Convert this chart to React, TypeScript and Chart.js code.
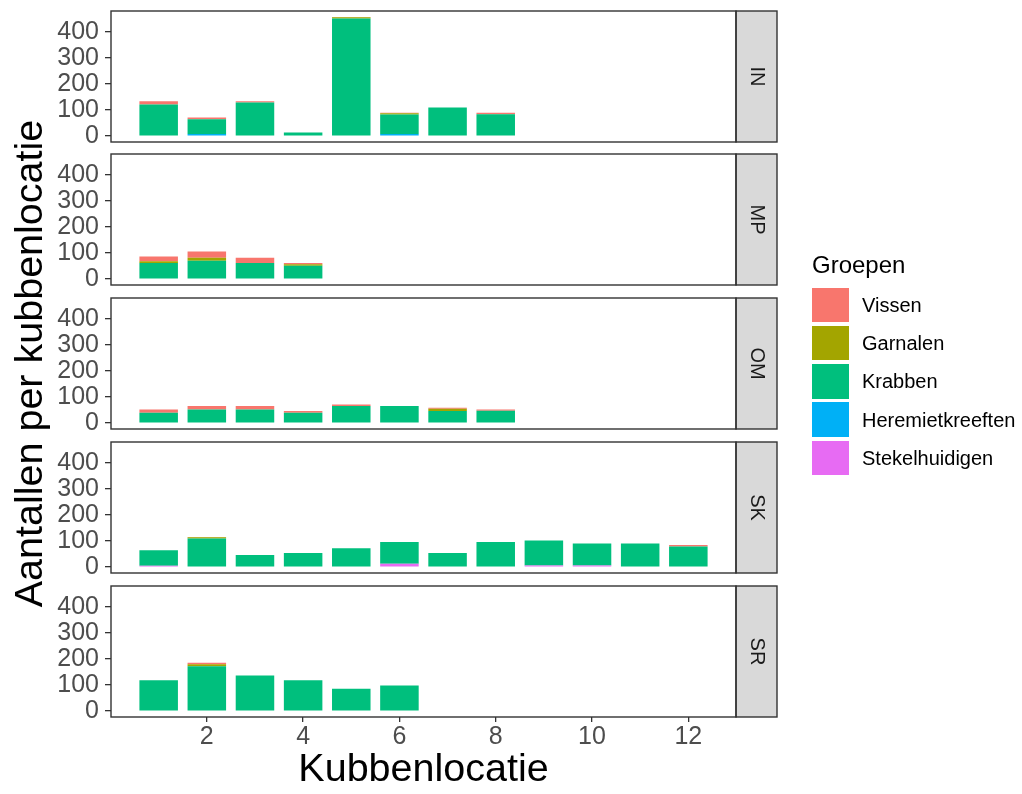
import React, { useEffect, useRef } from "react";
import { Chart, registerables } from "chart.js";

Chart.register(...registerables);

// ---------- data ----------
const facets = ["IN", "MP", "OM", "SK", "SR"];
const groups = ["Vissen", "Garnalen", "Krabben", "Heremietkreeften", "Stekelhuidigen"];
const groupColors = ["#F8766D", "#A3A500", "#00BF7D", "#00B0F6", "#E76BF3"];
const yTicks = [0, 100, 200, 300, 400];
const xTicks = [2, 4, 6, 8, 10, 12];

// IN (locaties 1-8)
const inVissen = [13, 6, 5, 0, 1, 2, 0, 6];
const inGarnalen = [0, 0, 0, 0, 5, 5, 0, 0];
const inKrabben = [121, 57, 129, 14, 452, 75, 110, 84];
const inHeremiet = [0, 8, 0, 0, 0, 8, 0, 0];
const inStekel = [0, 0, 0, 0, 0, 0, 0, 0];

// MP (locaties 1-4)
const mpVissen = [19, 24, 20, 5];
const mpGarnalen = [6, 12, 0, 6];
const mpKrabben = [62, 70, 62, 51];
const mpHeremiet = [0, 0, 0, 0];
const mpStekel = [0, 0, 0, 0];

// OM (locaties 1-8)
const omVissen = [12, 14, 14, 6, 5, 0, 4, 5];
const omGarnalen = [0, 0, 0, 0, 0, 0, 9, 0];
const omKrabben = [40, 52, 52, 40, 66, 66, 46, 47];
const omHeremiet = [0, 0, 0, 0, 0, 0, 0, 0];
const omStekel = [0, 0, 0, 0, 0, 0, 0, 0];

// SK (locaties 1-12)
const skVissen = [0, 1, 0, 0, 0, 0, 0, 0, 0, 0, 0, 6];
const skGarnalen = [0, 5, 0, 0, 0, 0, 0, 0, 0, 0, 0, 0];
const skKrabben = [60, 110, 46, 54, 72, 83, 54, 96, 96, 85, 91, 79];
const skHeremiet = [0, 0, 0, 0, 0, 0, 0, 0, 0, 0, 0, 0];
const skStekel = [5, 0, 0, 0, 0, 13, 0, 0, 6, 6, 0, 0];

// SR (locaties 1-6)
const srVissen = [0, 6, 0, 0, 0, 0];
const srGarnalen = [0, 8, 0, 0, 0, 0];
const srKrabben = [118, 172, 137, 118, 86, 98];
const srHeremiet = [0, 0, 0, 0, 0, 0];
const srStekel = [0, 0, 0, 0, 0, 0];

const facetSeries = [
  [inVissen, inGarnalen, inKrabben, inHeremiet, inStekel],
  [mpVissen, mpGarnalen, mpKrabben, mpHeremiet, mpStekel],
  [omVissen, omGarnalen, omKrabben, omHeremiet, omStekel],
  [skVissen, skGarnalen, skKrabben, skHeremiet, skStekel],
  [srVissen, srGarnalen, srKrabben, srHeremiet, srStekel],
];

// ---------- layout ----------
const W = 1022;
const H = 794;
const FONT = '"Liberation Sans", Arial, Helvetica, sans-serif';
const panelLeft = 111;
const panelRight = 736;
const stripWidth = 41;
const panelTops = [11, 154, 298, 442, 586];
const panelHeight = 131;
const xAxisHeight = 77;

const panelDecor = {
  id: "panelDecor",
  afterDatasetsDraw(chart: any, _args: any, opts: any) {
    const { ctx, chartArea: a } = chart;
    const h = a.bottom - a.top;
    ctx.save();
    ctx.fillStyle = "#D9D9D9";
    ctx.fillRect(a.right, a.top, stripWidth, h);
    ctx.strokeStyle = "#333333";
    ctx.lineWidth = 1.4;
    ctx.strokeRect(a.right, a.top, stripWidth, h);
    ctx.strokeRect(a.left, a.top, a.right - a.left, h);
    ctx.translate(a.right + stripWidth / 2, a.top + h / 2);
    ctx.rotate(Math.PI / 2);
    ctx.fillStyle = "#1A1A1A";
    ctx.font = `20px ${FONT}`;
    ctx.textAlign = "center";
    ctx.textBaseline = "middle";
    ctx.fillText(opts.label, 0, 0);
    ctx.restore();
  },
};

function buildDatasets(fi: number) {
  const series = facetSeries[fi];
  const order = [4, 3, 2, 1, 0]; // bottom of stack first
  return order.map((gi) => ({
    label: groups[gi],
    data: series[gi].map((v, i) => ({ x: i + 1, y: v })),
    backgroundColor: groupColors[gi],
    borderWidth: 0,
    stack: "s",
    barPercentage: 0.8,
    categoryPercentage: 1,
  }));
}

export default function App() {
  const refs = useRef<(HTMLCanvasElement | null)[]>([]);

  useEffect(() => {
    const charts: Chart[] = [];
    facets.forEach((facet, fi) => {
      const canvas = refs.current[fi];
      if (!canvas) return;
      const isBottom = fi === facets.length - 1;
      const top = panelTops[fi];
      const bottomPad = isBottom ? H - (top + panelHeight) - xAxisHeight : H - (top + panelHeight);
      const chart = new Chart(canvas, {
        type: "bar",
        data: { datasets: buildDatasets(fi) as any },
        plugins: [panelDecor],
        options: {
          responsive: false,
          animation: false,
          devicePixelRatio: 1,
          layout: { padding: { left: 0, right: W - panelRight, top, bottom: bottomPad } },
          plugins: {
            legend: { display: false },
            tooltip: { enabled: false },
            panelDecor: { label: facet },
          } as any,
          scales: {
            x: {
              type: "linear",
              stacked: true,
              offset: false,
              min: 0.01,
              max: 12.99,
              display: isBottom,
              afterBuildTicks: (s: any) => {
                s.ticks = xTicks.map((v) => ({ value: v }));
              },
              afterFit: (s: any) => {
                s.height = isBottom ? xAxisHeight : 0;
                s.paddingLeft = 0;
                s.paddingRight = 0;
              },
              grid: {
                offset: false,
                drawOnChartArea: false,
                drawTicks: true,
                tickLength: 5,
                color: "#333333",
                lineWidth: 1.3,
              },
              border: { display: false },
              ticks: {
                color: "#4D4D4D",
                font: { size: 25, family: FONT },
                padding: 0,
                autoSkip: false,
                maxRotation: 0,
              },
              title: {
                display: true,
                text: "Kubbenlocatie",
                color: "#000000",
                font: { size: 39.5, family: FONT, lineHeight: 1.2 },
                padding: 0,
              },
            },
            y: {
              type: "linear",
              stacked: true,
              min: -22.9,
              max: 480.9,
              afterBuildTicks: (s: any) => {
                s.ticks = yTicks.map((v) => ({ value: v }));
              },
              afterFit: (s: any) => {
                s.width = panelLeft;
                s.paddingTop = 0;
                s.paddingBottom = 0;
              },
              grid: {
                drawOnChartArea: false,
                drawTicks: true,
                tickLength: 6,
                color: "#333333",
                lineWidth: 1.3,
              },
              border: { display: false },
              ticks: {
                color: "#4D4D4D",
                font: { size: 25, family: FONT },
                padding: 6,
                autoSkip: false,
              },
              title: {
                display: fi === 2,
                text: "Aantallen per kubbenlocatie",
                color: "#000000",
                font: { size: 39.5, family: FONT, lineHeight: 1.2 },
                padding: { top: 7, bottom: 0 },
              },
            },
          },
        } as any,
      });
      charts.push(chart);
    });
    return () => charts.forEach((c) => c.destroy());
  }, []);

  const keyTop0 = 287.5;
  const keyStep = 38.3;
  const keyH = 34.5;

  return (
    <div
      style={{
        position: "absolute",
        left: 0,
        top: 0,
        width: W,
        height: H,
        background: "#ffffff",
        overflow: "hidden",
        fontFamily: FONT,
      }}
    >
      {facets.map((f, i) => (
        <canvas
          key={f}
          ref={(el) => {
            refs.current[i] = el;
          }}
          width={W}
          height={H}
          style={{ position: "absolute", left: 0, top: 0, width: W, height: H }}
        />
      ))}
      <div
        style={{
          position: "absolute",
          left: 812,
          top: 251,
          fontSize: 24,
          lineHeight: "28px",
          color: "#000000",
          whiteSpace: "nowrap",
        }}
      >
        Groepen
      </div>
      {groups.map((g, i) => {
        const t = keyTop0 + i * keyStep;
        return (
          <React.Fragment key={g}>
            <div
              style={{
                position: "absolute",
                left: 812,
                top: t,
                width: 37,
                height: keyH,
                background: groupColors[i],
              }}
            />
            <div
              style={{
                position: "absolute",
                left: 862,
                top: t + keyH / 2 - 12,
                fontSize: 20,
                lineHeight: "24px",
                color: "#000000",
                whiteSpace: "nowrap",
              }}
            >
              {g}
            </div>
          </React.Fragment>
        );
      })}
    </div>
  );
}
